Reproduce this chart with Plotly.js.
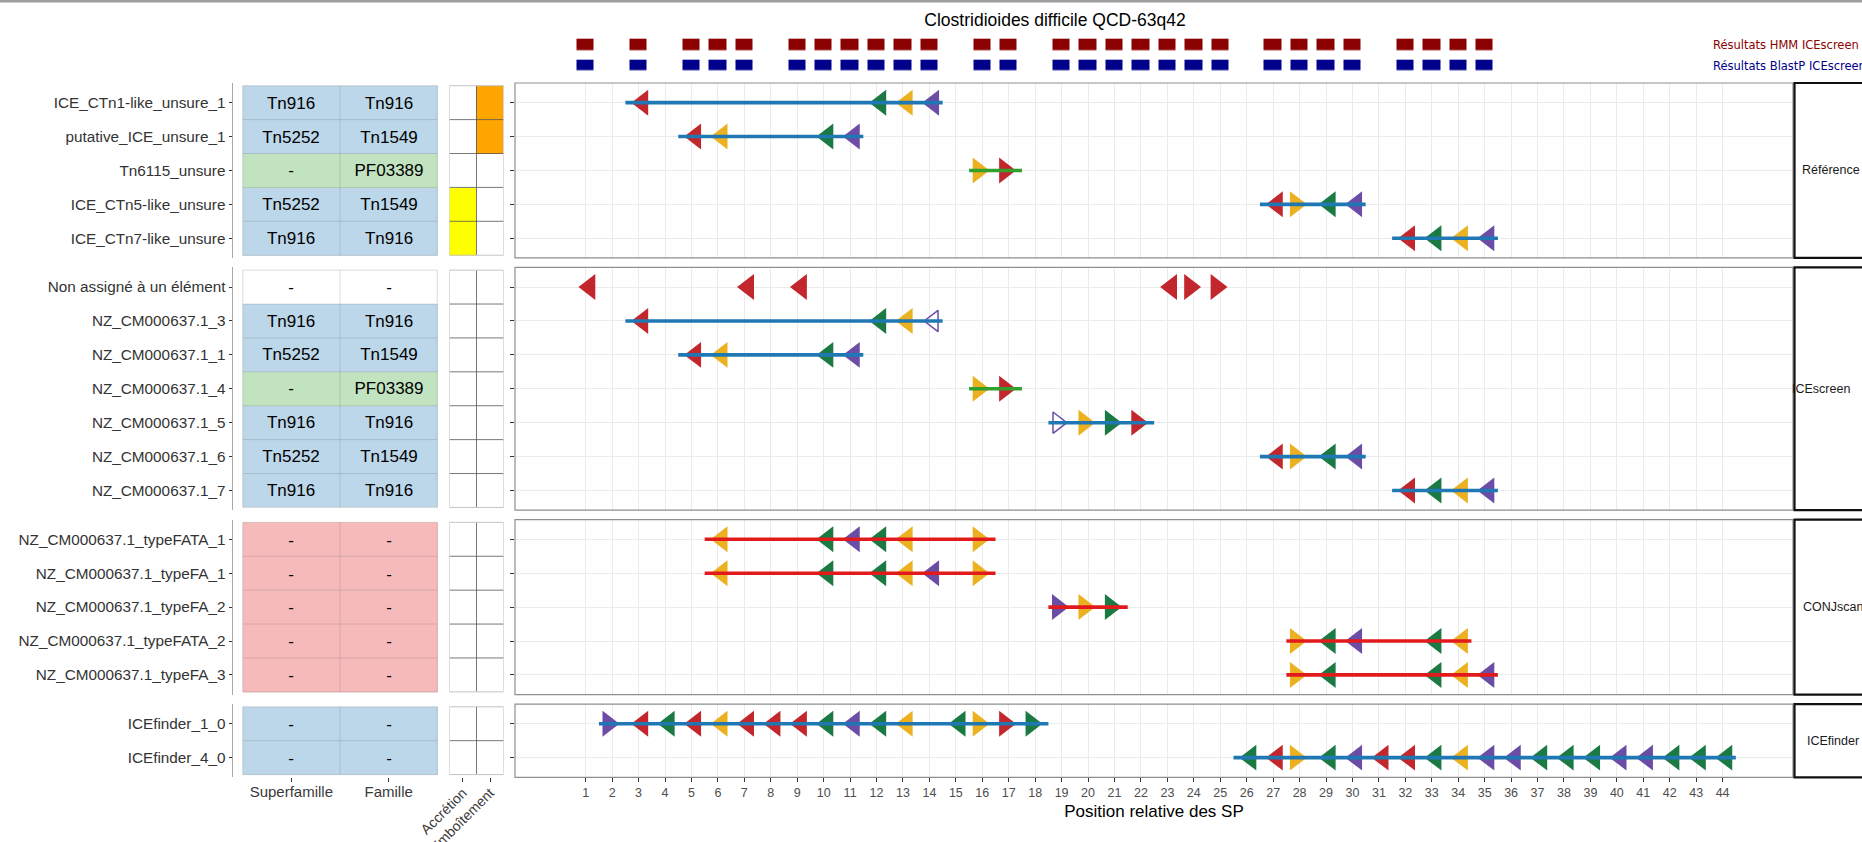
<!DOCTYPE html>
<html><head><meta charset="utf-8">
<script src="https://cdn.plot.ly/plotly-3.0.1.min.js"></script>
<style>html,body{margin:0;padding:0;background:#fff}#chart{width:1862px;height:842px}</style>
</head><body><div id="chart"></div>
<script>
// ================= DATA =================
const chartTitle = 'Clostridioides difficile QCD-63q42';
const xAxisTitle = 'Position relative des SP';
const tableColumns = ['Superfamille', 'Famille'];
const flagColumns = ['Accrétion', 'Emboîtement'];
const panelNames = ['Référence', 'ICEscreen', 'CONJscan', 'ICEfinder'];
const hitRows = ['Résultats HMM ICEscreen', 'Résultats BlastP ICEscreen'];
const hmmPositions = [1,3,5,6,7,9,10,11,12,13,14,16,17,19,20,21,22,23,24,25,27,28,29,30,32,33,34,35];
const blastpPositions = [1,3,5,6,7,9,10,11,12,13,14,16,17,19,20,21,22,23,24,25,27,28,29,30,32,33,34,35];
const xTickValues = [1,2,3,4,5,6,7,8,9,10,11,12,13,14,15,16,17,18,19,20,21,22,23,24,25,26,27,28,29,30,31,32,33,34,35,36,37,38,39,40,41,42,43,44];

// signature proteins along the genome
const spPosition = [1,2,3,4,5,6,7,8,9,10,11,12,13,14,15,16,17,18,19,20,21,22,23,24,25,26,27,28,29,30,31,32,33,34,35,36,37,38,39,40,41,42,43,44];
const spType = ['Intégrase','Protéine de couplage','Intégrase','VirB4','Intégrase','Relaxase','Intégrase','Intégrase','Intégrase','VirB4',
  'Protéine de couplage','VirB4','Relaxase','Protéine de couplage','VirB4','Relaxase','Intégrase','VirB4','Protéine de couplage','Relaxase',
  'VirB4','Intégrase','Intégrase','Intégrase','Intégrase','VirB4','Intégrase','Relaxase','VirB4','Protéine de couplage',
  'Intégrase','Intégrase','VirB4','Relaxase','Protéine de couplage','Protéine de couplage','VirB4','VirB4','VirB4','Protéine de couplage',
  'Protéine de couplage','VirB4','VirB4','VirB4'];
const spStrand = ['-','+','-','-','-','-','-','-','-','-',
  '-','-','-','-','-','+','+','+','+','+',
  '+','+','-','+','+','-','-','+','-','-',
  '-','-','-','-','-','-','-','-','-','-',
  '-','-','-','-'];

// elements (rows)
const elementNames = [
  'ICE_CTn1-like_unsure_1','putative_ICE_unsure_1','Tn6115_unsure','ICE_CTn5-like_unsure','ICE_CTn7-like_unsure',
  'Non assigné à un élément','NZ_CM000637.1_3','NZ_CM000637.1_1','NZ_CM000637.1_4','NZ_CM000637.1_5','NZ_CM000637.1_6','NZ_CM000637.1_7',
  'NZ_CM000637.1_typeFATA_1','NZ_CM000637.1_typeFA_1','NZ_CM000637.1_typeFA_2','NZ_CM000637.1_typeFATA_2','NZ_CM000637.1_typeFA_3',
  'ICEfinder_1_0','ICEfinder_4_0'];
const elementPanel = ['Référence','Référence','Référence','Référence','Référence',
  'ICEscreen','ICEscreen','ICEscreen','ICEscreen','ICEscreen','ICEscreen','ICEscreen',
  'CONJscan','CONJscan','CONJscan','CONJscan','CONJscan',
  'ICEfinder','ICEfinder'];
const elementKind = ['ICE','ICE','IME','ICE','ICE',
  'none','ICE','ICE','IME','ICE','ICE','ICE',
  'CONJ','CONJ','CONJ','CONJ','CONJ',
  'ICE','ICE'];
const superfamille = ['Tn916','Tn5252','-','Tn5252','Tn916','-','Tn916','Tn5252','-','Tn916','Tn5252','Tn916','-','-','-','-','-','-','-'];
const famille = ['Tn916','Tn1549','PF03389','Tn1549','Tn916','-','Tn916','Tn1549','PF03389','Tn916','Tn1549','Tn916','-','-','-','-','-','-','-'];
const accretion = [0,0,0,1,1, 0,0,0,0,0,0,0, 0,0,0,0,0, 0,0];
const emboitement = [1,1,0,0,0, 0,0,0,0,0,0,0, 0,0,0,0,0, 0,0];
const elementStart = [2.5,4.5,15.5,26.5,31.5, null,2.5,4.5,15.5,18.5,26.5,31.5, 5.5,5.5,18.5,27.5,27.5, 1.5,25.5];
const elementEnd = [14.5,11.5,17.5,30.5,35.5, null,14.5,11.5,17.5,22.5,30.5,35.5, 16.5,16.5,21.5,34.5,35.5, 18.5,44.5];
const elementSPs = [
  [3,12,13,14],[5,6,10,11],[16,17],[27,28,29,30],[32,33,34,35],
  [1,7,9,23,24,25],[3,12,13,14],[5,6,10,11],[16,17],[19,20,21,22],[27,28,29,30],[32,33,34,35],
  [6,10,11,12,13,16],[6,10,12,13,14,16],[19,20,21],[28,29,30,33,34],[28,29,33,34,35],
  [2,3,4,5,6,7,8,9,10,11,12,13,15,16,17,18],
  [26,27,28,29,30,31,32,33,34,35,36,37,38,39,40,41,42,43,44]];
const elementPartialSPs = [[],[],[],[],[], [],[14],[],[],[19],[],[], [],[],[],[],[], [],[]];

// ================= STYLE =================
const FONT = '"Liberation Sans", Arial, Helvetica, sans-serif';
const spColors = {'Intégrase':'#C1272D','Relaxase':'#EBB120','VirB4':'#1B7A43','Protéine de couplage':'#6B4DA6'};
const kindColors = {none:'#FFFFFF', ICE:'#1F78B4', IME:'#33A02C', CONJ:'#E31A1C'};
const kindOrder = ['none','ICE','IME','CONJ'];
const hitColors = ['#8B0000','#00008B'];
const flagColors = ['#FFFFFF','#FFFF00','#FFA500'];
const stripLabelLeftPx = [1800, 1790, 1801, 1805];

const W = 1862, H = 842;
const PX_X1 = 585.7, PX_UNIT = 26.44;
const MAIN_L = 515, MAIN_R = 1793;
const TABLE_L = 233, TABLE_R = 447;
const FLAG_L = 449.3, FLAG_R = 503.7;
const ROW_PX = 33.9, PAD = 0.58, GAP = 9.5, TOP0 = 83;
const HIT_TOP = 34.65, HIT_ROW = 20.7;
const TRI_SHIFT = 4 / PX_UNIT;
const TRI_SIZE = 22.5, TRI_OPEN_SIZE = 18.5;

const xRange = [1 + (MAIN_L - PX_X1) / PX_UNIT, 1 + (MAIN_R - PX_X1) / PX_UNIT];
const fx = px => px / W;
const fy = px => 1 - px / H;
const yid = n => n === 1 ? 'y' : 'y' + n;
const ykey = n => n === 1 ? 'yaxis' : 'yaxis' + n;

function tint(hex, a) {
  const c = [1,3,5].map(i => parseInt(hex.slice(i, i + 2), 16));
  return 'rgb(' + c.map(v => Math.round(a * v + (1 - a) * 255)).join(',') + ')';
}
function stepScale(colors) {
  const n = colors.length, s = [];
  colors.forEach((c, i) => { s.push([i / n, c]); s.push([(i + 1) / n, c]); });
  return s;
}

const panelRows = panelNames.map(p => elementNames.filter((_, i) => elementPanel[i] === p));
let cursor = TOP0;
const panelPx = panelRows.map(rows => {
  const h = (rows.length - 1 + 2 * PAD) * ROW_PX;
  const d = [cursor, cursor + h];
  cursor += h + GAP;
  return d;
});

const layout = {
  width: W, height: H,
  margin: {l: 0, r: 0, t: 0, b: 0},
  paper_bgcolor: '#fff', plot_bgcolor: '#fff',
  showlegend: false,
  font: {family: FONT, color: '#4d4d4d', size: 12},
  title: {text: chartTitle, x: fx(1055), xanchor: 'center', y: fy(20), yanchor: 'middle',
          font: {family: FONT, size: 17.5, color: '#000'}},
  shapes: [], annotations: []
};

layout.xaxis = {
  domain: [fx(MAIN_L), fx(MAIN_R)], range: xRange, anchor: 'y4',
  tickmode: 'array', tickvals: xTickValues, ticktext: xTickValues.map(String),
  ticks: 'outside', ticklen: 4, tickwidth: 1, tickcolor: '#333',
  tickfont: {size: 12.5, color: '#4d4d4d'},
  showgrid: true, gridcolor: '#EBEBEB', gridwidth: 1,
  zeroline: false, showline: false, automargin: false,
  title: {text: xAxisTitle, font: {size: 17, color: '#000'}, standoff: 5}
};
layout.xaxis2 = {
  domain: [fx(TABLE_L), fx(TABLE_R)], anchor: 'y8', type: 'category',
  categoryorder: 'array', categoryarray: tableColumns, range: [-0.6, 1.6],
  showgrid: false, zeroline: false, showline: false,
  ticks: 'outside', ticklen: 4, tickcolor: '#333', ticklabelstandoff: -3,
  tickfont: {size: 15, color: '#3a3a3a'}, automargin: false
};
layout.xaxis3 = {
  domain: [fx(FLAG_L), fx(FLAG_R)], anchor: 'y8', type: 'category',
  categoryorder: 'array', categoryarray: flagColumns, range: [-0.5, 1.5],
  showgrid: false, zeroline: false, showline: false,
  ticks: 'outside', ticklen: 4, tickcolor: '#333', tickangle: -45, ticklabelstandoff: -3,
  tickfont: {size: 14, color: '#3a3a3a'}, automargin: false
};
layout.xaxis4 = {domain: [fx(MAIN_L), fx(MAIN_R)], range: xRange, anchor: 'y9', visible: false};
layout.yaxis9 = {
  domain: [fy(HIT_TOP + 2 * HIT_ROW), fy(HIT_TOP)], anchor: 'x4', type: 'category',
  categoryorder: 'array', categoryarray: hitRows, range: [1.5, -0.5], visible: false
};

const traces = [];

// top hit strips
const hitMax = Math.max(...hmmPositions, ...blastpPositions);
const hitX = [];
for (let v = 1; v <= hitMax; v++) hitX.push(v);
traces.push({
  type: 'heatmap', x: hitX, y: hitRows,
  z: [hitX.map(v => hmmPositions.includes(v) ? 0 : null), hitX.map(v => blastpPositions.includes(v) ? 1 : null)],
  xaxis: 'x4', yaxis: 'y9', colorscale: stepScale(hitColors), zmin: -0.5, zmax: 1.5,
  showscale: false, xgap: 9, ygap: 9.5, hoverinfo: 'skip'
});
hitRows.forEach((r, i) => layout.annotations.push({
  xref: 'paper', x: fx(1711), xanchor: 'left', yref: 'y9', y: r, yanchor: 'middle',
  text: r, showarrow: false, font: {family: '"DejaVu Sans", sans-serif', size: 11.5, color: hitColors[i]}
}));

// top border line
layout.shapes.push({type: 'line', xref: 'paper', yref: 'paper', x0: 0, x1: 1, y0: fy(1.3), y1: fy(1.3),
  line: {color: '#9e9e9e', width: 2.6}});

panelRows.forEach((rows, i) => {
  const n = rows.length;
  const dom = [fy(panelPx[i][1]), fy(panelPx[i][0])];
  const range = [n - 1 + PAD, -PAD];
  const mainY = yid(i + 1), tabY = yid(i + 5);
  layout[ykey(i + 1)] = {
    domain: dom, anchor: 'x', type: 'category', categoryorder: 'array', categoryarray: rows, range: range,
    showgrid: true, gridcolor: '#EBEBEB', gridwidth: 1, zeroline: false,
    showticklabels: false, ticks: 'outside', ticklen: 4, tickcolor: '#333', showline: false, automargin: false
  };
  layout[ykey(i + 5)] = {
    domain: dom, anchor: 'x2', type: 'category', categoryorder: 'array', categoryarray: rows, range: range,
    showgrid: false, zeroline: false, showticklabels: true, ticks: 'outside', ticklen: 3, tickcolor: '#333',
    tickfont: {size: 15.3, color: '#333'}, showline: true, linecolor: '#a8a8a8', linewidth: 1.5, automargin: false
  };

  const idx = rows.map(r => elementNames.indexOf(r));

  // table cells
  traces.push({
    type: 'heatmap', x: tableColumns, y: rows,
    z: idx.map(k => [kindOrder.indexOf(elementKind[k]), kindOrder.indexOf(elementKind[k])]),
    text: idx.map(k => [superfamille[k], famille[k]]),
    texttemplate: '%{text}', textfont: {family: FONT, size: 17, color: '#000'},
    colorscale: stepScale(kindOrder.map(kd => kd === 'none' ? '#FFFFFF' : tint(kindColors[kd], 0.3))),
    zmin: -0.5, zmax: kindOrder.length - 0.5, showscale: false,
    xaxis: 'x2', yaxis: tabY, hoverinfo: 'skip'
  });
  // accretion / emboitement cells
  traces.push({
    type: 'heatmap', x: flagColumns, y: rows,
    z: idx.map(k => [accretion[k] ? 1 : 0, emboitement[k] ? 2 : 0]),
    colorscale: stepScale(flagColors), zmin: -0.5, zmax: 2.5, showscale: false,
    xaxis: 'x3', yaxis: tabY, hoverinfo: 'skip'
  });

  // SP triangles
  const mx = [], my = [], ms = [], mc = [], mw = [], mz = [];
  idx.forEach(k => {
    elementSPs[k].forEach(p => {
      const g = spPosition.indexOf(p);
      const left = spStrand[g] === '-';
      const open = elementPartialSPs[k].includes(p);
      mx.push(p + (left ? 1 : -1) * TRI_SHIFT);
      my.push(elementNames[k]);
      ms.push((left ? 'triangle-left' : 'triangle-right') + (open ? '-open' : ''));
      mc.push(spColors[spType[g]]);
      mw.push(open ? 1.5 : 0);
      mz.push(open ? TRI_OPEN_SIZE : TRI_SIZE);
    });
  });
  traces.push({
    type: 'scatter', mode: 'markers', x: mx, y: my, xaxis: 'x', yaxis: mainY,
    marker: {symbol: ms, color: mc, size: mz, opacity: 1, line: {width: mw, color: mc}},
    hoverinfo: 'skip'
  });
  // element extent lines (drawn on top)
  idx.forEach(k => {
    if (elementStart[k] == null) return;
    traces.push({
      type: 'scatter', mode: 'lines', x: [elementStart[k], elementEnd[k]], y: [elementNames[k], elementNames[k]],
      xaxis: 'x', yaxis: mainY, line: {color: kindColors[elementKind[k]], width: 3.6}, hoverinfo: 'skip'
    });
  });

  // panel border
  layout.shapes.push({type: 'rect', xref: 'x domain', yref: mainY + ' domain', x0: 0, x1: 1, y0: 0, y1: 1,
    line: {color: '#8f8f8f', width: 1.2}, layer: 'above'});
  // strip
  layout.shapes.push({type: 'rect', xref: 'paper', yref: mainY + ' domain', x0: fx(1794.5), x1: 1.05, y0: 0, y1: 1,
    line: {color: '#111', width: 2.2}, fillcolor: '#fff', layer: 'above'});
  layout.annotations.push({xref: 'paper', x: fx(stripLabelLeftPx[i]), xanchor: 'left', yref: mainY + ' domain', y: 0.5,
    yanchor: 'middle', text: panelNames[i], showarrow: false, font: {family: FONT, size: 12.5, color: '#1a1a1a'}});

  // table separators
  const sepT = {color: 'rgba(100,100,100,0.22)', width: 1};
  for (let r = 1; r < n; r++) {
    layout.shapes.push({type: 'line', xref: 'x2', yref: tabY, x0: -0.5, x1: 1.5, y0: r - 0.5, y1: r - 0.5, line: sepT, layer: 'above'});
    layout.shapes.push({type: 'line', xref: 'x3', yref: tabY, x0: -0.5, x1: 1.5, y0: r - 0.5, y1: r - 0.5,
      line: {color: '#555', width: 0.8}, layer: 'above'});
  }
  layout.shapes.push({type: 'line', xref: 'x2', yref: tabY, x0: 0.5, x1: 0.5, y0: -0.5, y1: n - 0.5, line: sepT, layer: 'above'});
  layout.shapes.push({type: 'rect', xref: 'x2', yref: tabY, x0: -0.5, x1: 1.5, y0: -0.5, y1: n - 0.5, line: sepT, layer: 'above'});
  layout.shapes.push({type: 'line', xref: 'x3', yref: tabY, x0: 0.5, x1: 0.5, y0: -0.5, y1: n - 0.5,
    line: {color: '#555', width: 0.8}, layer: 'above'});
  layout.shapes.push({type: 'rect', xref: 'x3', yref: tabY, x0: -0.5, x1: 1.5, y0: -0.5, y1: n - 0.5,
    line: {color: '#c4c4c4', width: 1}, layer: 'above'});
});

Plotly.newPlot('chart', traces, layout, {displayModeBar: false, staticPlot: true});
</script>
</body></html>
